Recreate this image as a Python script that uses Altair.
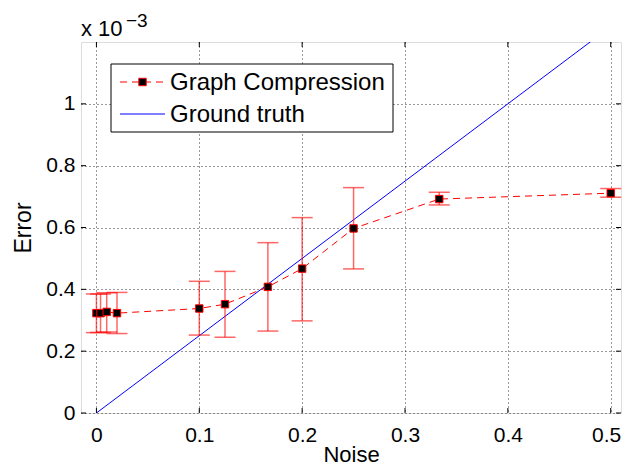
import altair as alt
import pandas as pd

# Data (error values in units of 1e-3)
noise = [0.0, 0.004, 0.01, 0.02, 0.1, 0.125, 0.1667, 0.2, 0.25, 0.3333, 0.5]
err_mean = [0.323, 0.323, 0.327, 0.323, 0.338, 0.352, 0.408, 0.467, 0.597, 0.692, 0.711]
err_low = [0.260, 0.260, 0.262, 0.257, 0.252, 0.245, 0.265, 0.298, 0.466, 0.673, 0.698]
err_high = [0.385, 0.385, 0.389, 0.390, 0.426, 0.458, 0.551, 0.632, 0.729, 0.714, 0.726]

truth_x = [0.0, 0.5]
truth_y = [0.0, 1.25]

x_ticks = [0, 0.1, 0.2, 0.3, 0.4, 0.5]
y_ticks = [0, 0.2, 0.4, 0.6, 0.8, 1.0]
series_names = ["Graph Compression", "Ground truth"]

W, H = 540, 371
FONT = "Liberation Sans"

df = pd.DataFrame({"noise": noise, "err": err_mean, "lo": err_low, "hi": err_high})
truth = pd.DataFrame({"noise": truth_x, "err": truth_y})

xs = alt.Scale(domain=[-0.015, 0.51], nice=False, zero=False)
ys = alt.Scale(domain=[0, 1.2], nice=False, zero=False)

xaxis = alt.Axis(values=x_ticks, format="~g", grid=True, ticks=False, tickSize=0, domain=False,
                 labelPadding=11, labelFontSize=21, labelFont=FONT, labelColor="black",
                 titleFontSize=22, titleFont=FONT, titleFontWeight="normal", titleColor="black",
                 titleX=270, titleY=53, titleBaseline="bottom", titleAlign="center",
                 gridDash=[1, 3], gridColor="#333", gridWidth=1,
                 labelFlush=11, labelFlushOffset=10)
yaxis = alt.Axis(values=y_ticks, format="~g", grid=True, ticks=False, tickSize=0, domain=False,
                 labelPadding=6, labelFontSize=21, labelFont=FONT, labelColor="black",
                 titleFontSize=23, titleFont=FONT, titleFontWeight="normal", titleColor="black",
                 titleX=-58, titleY=185.5, titleAngle=270, titleBaseline="middle", titleAlign="center",
                 gridDash=[1, 3], gridColor="#333", gridWidth=1, labelFlush=False)


def X(field):
    return alt.X(field, type="quantitative", scale=xs, axis=xaxis, title="Noise")


def Y(field):
    return alt.Y(field, type="quantitative", scale=ys, axis=yaxis, title="Error")


base = alt.Chart(df)

err_rules = base.mark_rule(color="red", opacity=0.6, strokeWidth=1.5).encode(
    x=X("noise"), y=Y("lo"), y2="hi")
err_caps_lo = base.mark_tick(color="red", opacity=0.6, orient="horizontal", size=21, thickness=1.5).encode(
    x=X("noise"), y=Y("lo"))
err_caps_hi = base.mark_tick(color="red", opacity=0.6, orient="horizontal", size=21, thickness=1.5).encode(
    x=X("noise"), y=Y("hi"))
dash_line = base.mark_line(color="red", strokeWidth=1, strokeDash=[7, 5]).encode(
    x=X("noise"), y=Y("err"))
truth_line = alt.Chart(truth).mark_line(color="blue", strokeWidth=1, clip=True).encode(
    x=X("noise"), y=Y("err"))
markers = base.mark_point(shape="square", filled=True, color="black", size=55, opacity=1,
                          stroke="red", strokeWidth=1).encode(x=X("noise"), y=Y("err"))

# inward ticks on all four sides
xt = alt.Chart(alt.Data(values=[{"v": v} for v in x_ticks]))
yt = alt.Chart(alt.Data(values=[{"v": v} for v in y_ticks]))
tick_style = dict(color="black", strokeWidth=1)
xt_bottom = xt.mark_rule(**tick_style).encode(x=X("v"), y=alt.value(H), y2=alt.value(H - 5))
xt_top = xt.mark_rule(**tick_style).encode(x=X("v"), y=alt.value(0), y2=alt.value(5))
yt_left = yt.mark_rule(**tick_style).encode(y=Y("v"), x=alt.value(0), x2=alt.value(5))
yt_right = yt.mark_rule(**tick_style).encode(y=Y("v"), x=alt.value(W), x2=alt.value(W - 5))

# exponent label
one = alt.Chart(alt.Data(values=[{"t": "x 10", "e": "\u22123"}]))
exp_base = one.mark_text(font=FONT, fontSize=22, align="left", baseline="alphabetic", color="black").encode(
    text="t:N", x=alt.value(0), y=alt.value(-6))
exp_sup = one.mark_text(font=FONT, fontSize=19, align="left", baseline="alphabetic", color="black").encode(
    text="e:N", x=alt.value(45), y=alt.value(-15))

# legend
leg_data = alt.Chart(alt.Data(values=[{"name": series_names[0]}]))
leg_data2 = alt.Chart(alt.Data(values=[{"name": series_names[1]}]))
leg_box = leg_data.mark_rect(fill="white", stroke="black", strokeWidth=1).encode(
    x=alt.value(30), x2=alt.value(312), y=alt.value(22), y2=alt.value(90))
leg_l1 = leg_data.mark_rule(color="red", strokeWidth=1, strokeDash=[7, 5]).encode(
    x=alt.value(39), x2=alt.value(84), y=alt.value(40))
leg_m1 = leg_data.mark_point(shape="square", filled=True, color="black", size=55, opacity=1,
                             stroke="red", strokeWidth=1).encode(x=alt.value(61.5), y=alt.value(40))
leg_t1 = leg_data.mark_text(font=FONT, fontSize=24, align="left", baseline="middle", color="black").encode(
    text="name:N", x=alt.value(89), y=alt.value(41))
leg_l2 = leg_data2.mark_rule(color="blue", strokeWidth=1).encode(
    x=alt.value(39), x2=alt.value(84), y=alt.value(72))
leg_t2 = leg_data2.mark_text(font=FONT, fontSize=24, align="left", baseline="middle", color="black").encode(
    text="name:N", x=alt.value(89), y=alt.value(73))

chart = alt.layer(
    truth_line, err_rules, err_caps_lo, err_caps_hi, dash_line, markers,
    xt_bottom, xt_top, yt_left, yt_right,
    exp_base, exp_sup,
    leg_box, leg_l1, leg_m1, leg_t1, leg_l2, leg_t2,
).properties(
    width=W, height=H,
    autosize=alt.AutoSizeParams(type="none"),
    padding={"left": 73, "top": 34, "right": 1, "bottom": 52},
).configure_view(
    stroke="black", strokeWidth=1
).configure(background="white")

chart.save("out.html", embed_options={"renderer": "svg", "actions": False})
